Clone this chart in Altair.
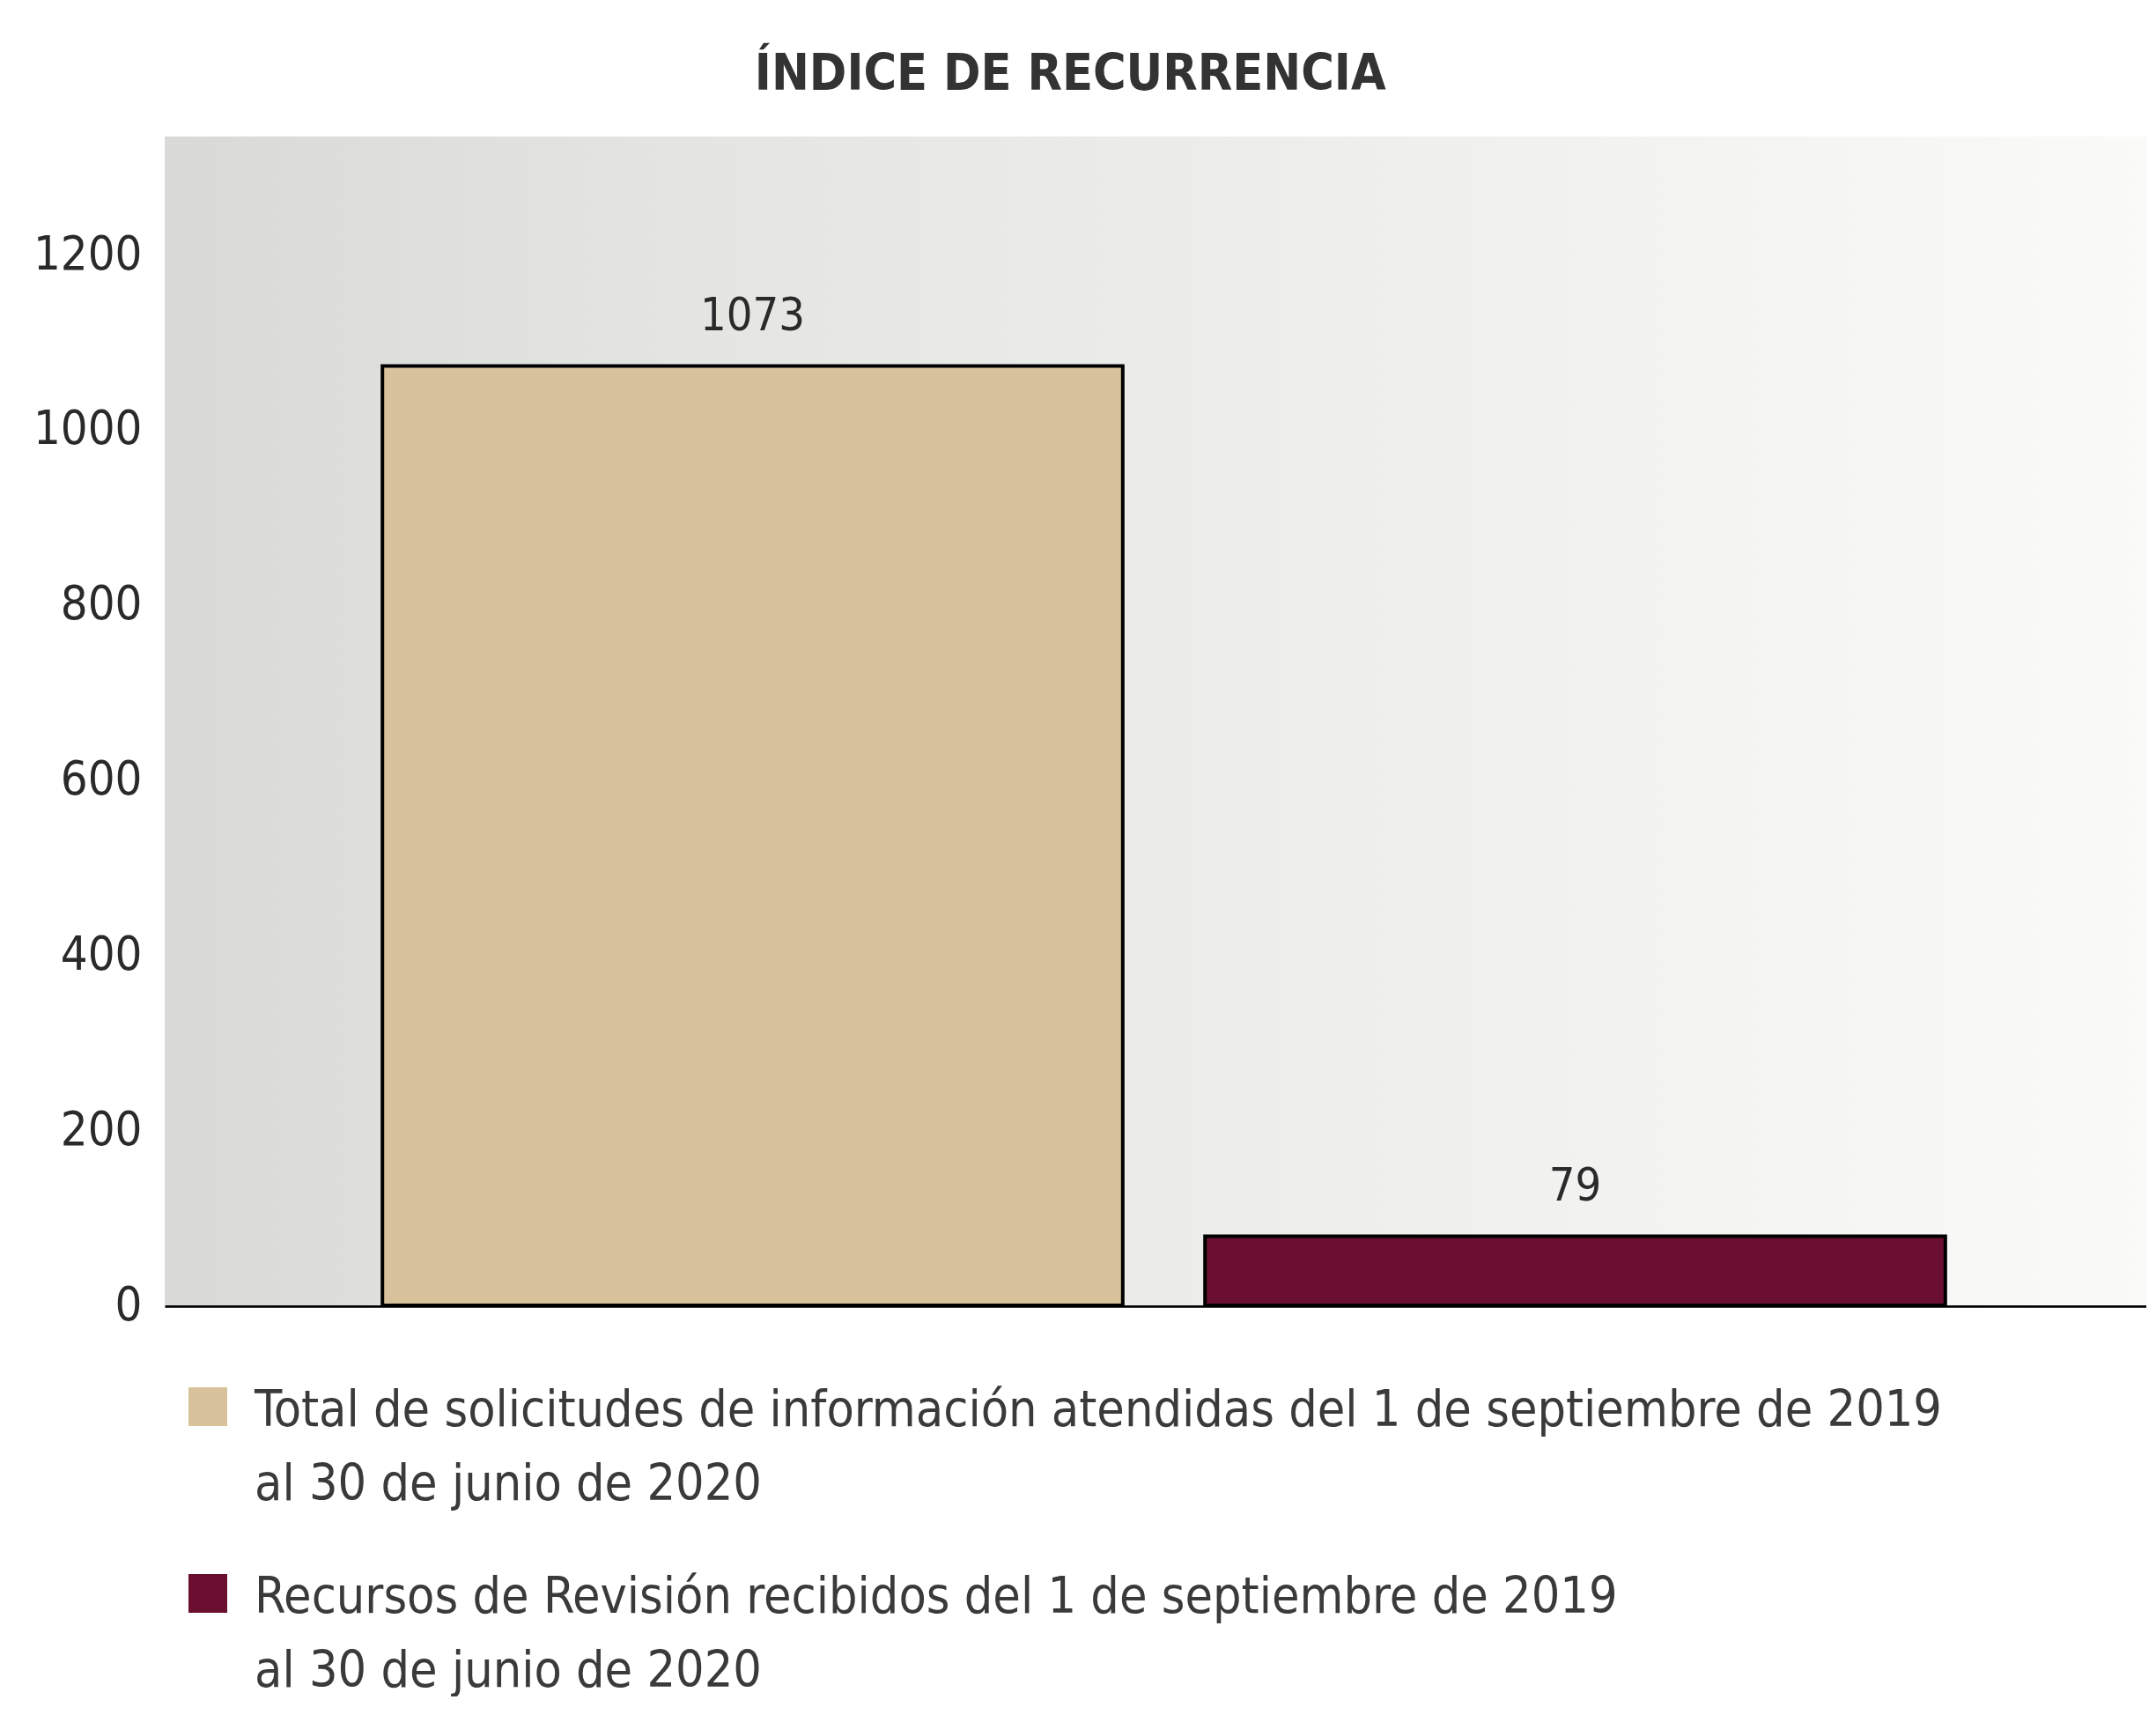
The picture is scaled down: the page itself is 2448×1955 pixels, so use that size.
import altair as alt
import pandas as pd

# ---- data ----
categories = [
    "Total de solicitudes de información atendidas del 1 de septiembre de 2019 al 30 de junio de 2020",
    "Recursos de Revisión recibidos del 1 de septiembre de 2019 al 30 de junio de 2020",
]
values = [1073, 79]
bar_colors = ["#D8C29C", "#6A0F30"]
legend_lines = [
    ["Total de solicitudes de información atendidas del 1 de septiembre de 2019",
     "al 30 de junio de 2020"],
    ["Recursos de Revisión recibidos del 1 de septiembre de 2019",
     "al 30 de junio de 2020"],
]
y_ticks = [0, 200, 400, 600, 800, 1000, 1200]
title_text = "ÍNDICE DE RECURRENCIA"

FONT = "DejaVu Sans Condensed, Liberation Sans Narrow, sans-serif"
W, H = 2250, 1327

df = pd.DataFrame({"cat": categories, "value": values, "color": bar_colors})

bg = alt.Chart(alt.Data(values=[{}])).mark_rect(
    color=alt.LinearGradient(
        gradient="linear", x1=0, x2=1, y1=0, y2=0,
        stops=[alt.GradientStop(color="#D9DAD7", offset=0),
               alt.GradientStop(color="#E4E4E1", offset=0.25),
               alt.GradientStop(color="#EDEDEB", offset=0.55),
               alt.GradientStop(color="#FAFAF9", offset=1)],
    )
).encode(x=alt.value(0), x2=alt.value(W), y=alt.value(0), y2=alt.value(H))

x_enc = alt.X("cat:N", sort=categories,
              scale=alt.Scale(paddingInner=0.1, paddingOuter=0.2545, align=0.52),
              axis=alt.Axis(title=None, labels=False, ticks=False,
                            domainColor="#000000", domainWidth=4.5))
y_enc = alt.Y("value:Q",
              scale=alt.Scale(domain=[0, 1335], nice=False),
              axis=alt.Axis(title=None, values=y_ticks, format="d", domain=False,
                            ticks=False, grid=False, labelFont=FONT, labelFontSize=54,
                            labelColor="#2A2A2A", labelPadding=26))

bars = alt.Chart(df).mark_bar(stroke="#000000", strokeWidth=4).encode(
    x=x_enc, y=y_enc,
    color=alt.Color("color:N", scale=None, legend=None),
)

labels = alt.Chart(df).mark_text(
    font=FONT, fontSize=52, color="#2A2A2A", baseline="alphabetic", dy=-40
).encode(x=x_enc, y=y_enc, text="value:Q")

ITEM_GAP, LINE_GAP = 212, 84
legend_layers = []
for i, (lines, col) in enumerate(zip(legend_lines, bar_colors)):
    sq = alt.Chart(alt.Data(values=[{"c": col}])).mark_square(
        size=44 * 44, opacity=1, filled=True
    ).encode(x=alt.value(49), y=alt.value(1442 + ITEM_GAP * i),
             color=alt.Color("c:N", scale=None, legend=None))
    legend_layers.append(sq)
    for j, line in enumerate(lines):
        tx = alt.Chart(alt.Data(values=[{"t": line}])).mark_text(
            font=FONT, fontSize=57, color="#3A3A3A", align="left",
            baseline="alphabetic"
        ).encode(x=alt.value(102), y=alt.value(1464 + ITEM_GAP * i + LINE_GAP * j),
                 text="t:N")
        legend_layers.append(tx)

chart = alt.layer(bg, bars, labels, *legend_layers).properties(
    width=W, height=H,
    padding={"left": 29, "top": 48, "right": 0, "bottom": 0},
    title=alt.TitleParams(title_text, font=FONT, fontSize=57, fontWeight="bold",
                          color="#333333", anchor="middle", frame="bounds",
                          dx=-22, offset=41),
).configure_view(stroke=None)

chart.save("out.html", embed_options={"renderer": "svg", "actions": False})
